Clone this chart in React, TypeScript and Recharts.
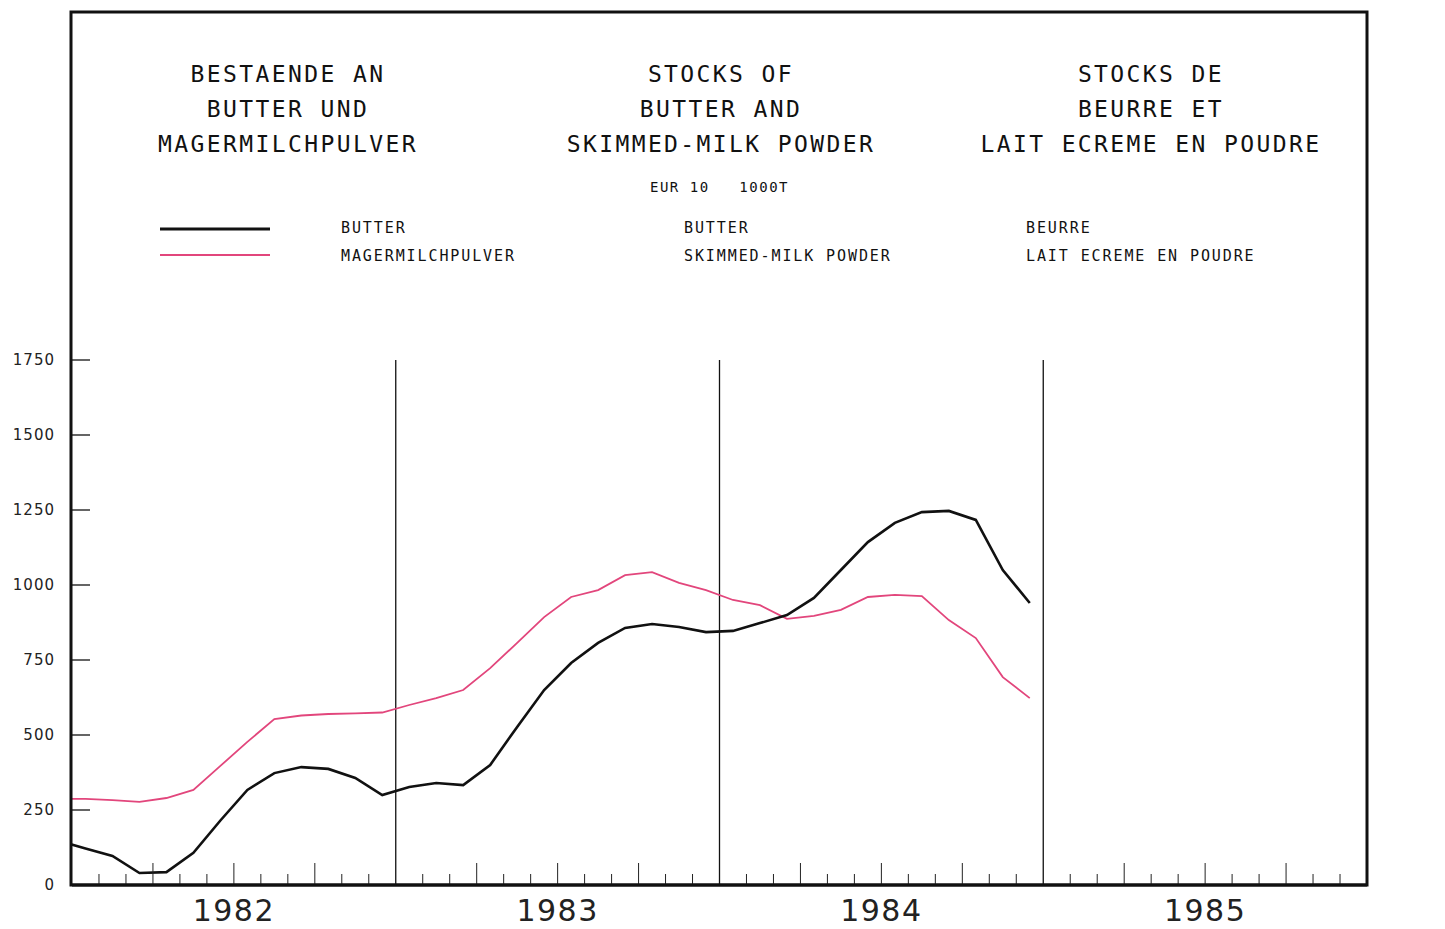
import { LineChart, Line, XAxis, YAxis, ReferenceLine } from "recharts";

// month index (mid-month), Dec 1981 .. Dec 1984
const months = [-0.5, 0.5, 1.5, 2.5, 3.5, 4.5, 5.5, 6.5, 7.5, 8.5, 9.5, 10.5, 11.5,
  12.5, 13.5, 14.5, 15.5, 16.5, 17.5, 18.5, 19.5, 20.5, 21.5, 22.5, 23.5,
  24.5, 25.5, 26.5, 27.5, 28.5, 29.5, 30.5, 31.5, 32.5, 33.5, 34.5, 35.5];

// EUR 10, 1000 t
const butter = [147, 122, 97, 40, 43, 107, 215, 317, 373, 393, 387, 357, 300,
  327, 340, 333, 400, 527, 650, 740, 807, 857, 870, 860, 843,
  847, 873, 900, 957, 1050, 1143, 1207, 1243, 1247, 1217, 1050, 940];

const smp = [287, 287, 283, 277, 290, 317, 397, 477, 553, 565, 570, 572, 575,
  600, 623, 650, 723, 807, 893, 960, 983, 1033, 1043, 1007, 983,
  950, 933, 887, 897, 917, 960, 967, 963, 883, 823, 693, 623];

const years = ["1982", "1983", "1984", "1985"];
const yearBreaks = [12, 24, 36];
const monthTicks = Array.from({ length: 49 }, (_, i) => i);
const valueTicks = [0, 250, 500, 750, 1000, 1250, 1500, 1750];

const titles = [
  ["BESTAENDE AN", "BUTTER UND", "MAGERMILCHPULVER"],
  ["STOCKS OF", "BUTTER AND", "SKIMMED-MILK POWDER"],
  ["STOCKS DE", "BEURRE ET", "LAIT ECREME EN POUDRE"],
];
const legendNames = [
  ["BUTTER", "MAGERMILCHPULVER"],
  ["BUTTER", "SKIMMED-MILK POWDER"],
  ["BEURRE", "LAIT ECREME EN POUDRE"],
];

const data = months.map((m, i) => ({ m, butter: butter[i], smp: smp[i] }));

const PINK = "#e2467c";
const mono = "'DejaVu Sans Mono', monospace";
const sans = "'DejaVu Sans', sans-serif";

const LeftTick = (props: any) => {
  const { x, y, payload } = props;
  return (
    <g>
      <line x1={x} x2={x + 18} y1={y} y2={y} stroke="#111" strokeWidth={1.3} />
      <text x={x - 17} y={y} dy={5} textAnchor="end" fontSize={15} fontFamily={sans} fill="#222" letterSpacing={1}>
        {payload.value}
      </text>
    </g>
  );
};

const RightTick = (props: any) => {
  const { x, y, payload } = props;
  return (
    <g>
      <line x1={x - 18} x2={x} y1={y} y2={y} stroke="#111" strokeWidth={1.3} />
      <text x={x + 62} y={y} dy={5} textAnchor="end" fontSize={15} fontFamily={sans} fill="#222" letterSpacing={1}>
        {payload.value}
      </text>
    </g>
  );
};

const MonthTick = (props: any) => {
  const { x, y, payload } = props;
  const v = payload.value;
  const h = v % 3 === 0 ? 22 : 11;
  return (
    <g>
      {v % 12 !== 0 && <line x1={x} x2={x} y1={y} y2={y - h} stroke="#222" strokeWidth={1} />}
      {v % 12 === 6 && (
        <text x={x} y={y + 36} textAnchor="middle" fontSize={30} fontFamily={sans} fill="#222" letterSpacing={1.5}>
          {years[Math.floor(v / 12)]}
        </text>
      )}
    </g>
  );
};

export default function App() {
  return (
    <div style={{ position: "absolute", left: 0, top: 0, width: 1445, height: 929, background: "#fff" }}>
      <LineChart width={1445} height={929} data={data} margin={{ top: 360, right: 18, bottom: 0, left: 12 }}>
        <XAxis
          dataKey="m"
          type="number"
          domain={[0, 48]}
          ticks={monthTicks}
          interval={0}
          allowDataOverflow
          tick={<MonthTick />}
          tickLine={false}
          tickSize={0}
          tickMargin={0}
          axisLine={{ stroke: "#111", strokeWidth: 3 }}
          height={44}
        />
        <YAxis
          yAxisId="l"
          orientation="left"
          domain={[0, 1750]}
          ticks={valueTicks}
          width={60}
          tick={<LeftTick />}
          tickLine={false}
          tickSize={0}
          tickMargin={0}
          axisLine={false}
        />
        <YAxis
          yAxisId="r"
          orientation="right"
          domain={[0, 1750]}
          ticks={valueTicks}
          width={60}
          tick={<RightTick />}
          tickLine={false}
          tickSize={0}
          tickMargin={0}
          axisLine={false}
        />
        {yearBreaks.map((b) => (
          <ReferenceLine key={b} yAxisId="l" x={b} stroke="#111" strokeWidth={1.3} />
        ))}
        <Line yAxisId="l" type="linear" dataKey="smp" stroke={PINK} strokeWidth={1.8} dot={false} isAnimationActive={false} />
        <Line yAxisId="l" type="linear" dataKey="butter" stroke="#111" strokeWidth={2.6} dot={false} isAnimationActive={false} />
      </LineChart>
      <svg width={1445} height={929} style={{ position: "absolute", left: 0, top: 0, pointerEvents: "none" }}>
        <rect x={71} y={12} width={1296} height={873} fill="none" stroke="#111" strokeWidth={3} />
        {titles.map((col, ci) =>
          col.map((t, li) => (
            <text
              key={`${ci}-${li}`}
              x={[288, 721, 1151][ci]}
              y={82 + li * 35}
              textAnchor="middle"
              fontSize={23}
              fontFamily={mono}
              letterSpacing={2.4}
              fill="#111"
            >
              {t}
            </text>
          ))
        )}
        <text x={650} y={192} fontSize={14} fontFamily={mono} letterSpacing={1.5} fill="#111" style={{ whiteSpace: "pre" }}>
          {"EUR 10   1000T"}
        </text>
        <line x1={160} x2={270} y1={229} y2={229} stroke="#111" strokeWidth={3} />
        <line x1={160} x2={270} y1={255} y2={255} stroke={PINK} strokeWidth={2} />
        {legendNames.map((pair, ci) =>
          pair.map((t, li) => (
            <text
              key={`l-${ci}-${li}`}
              x={[341, 684, 1026][ci]}
              y={233 + li * 28}
              fontSize={15}
              fontFamily={mono}
              letterSpacing={1.9}
              fill="#111"
            >
              {t}
            </text>
          ))
        )}
      </svg>
    </div>
  );
}
